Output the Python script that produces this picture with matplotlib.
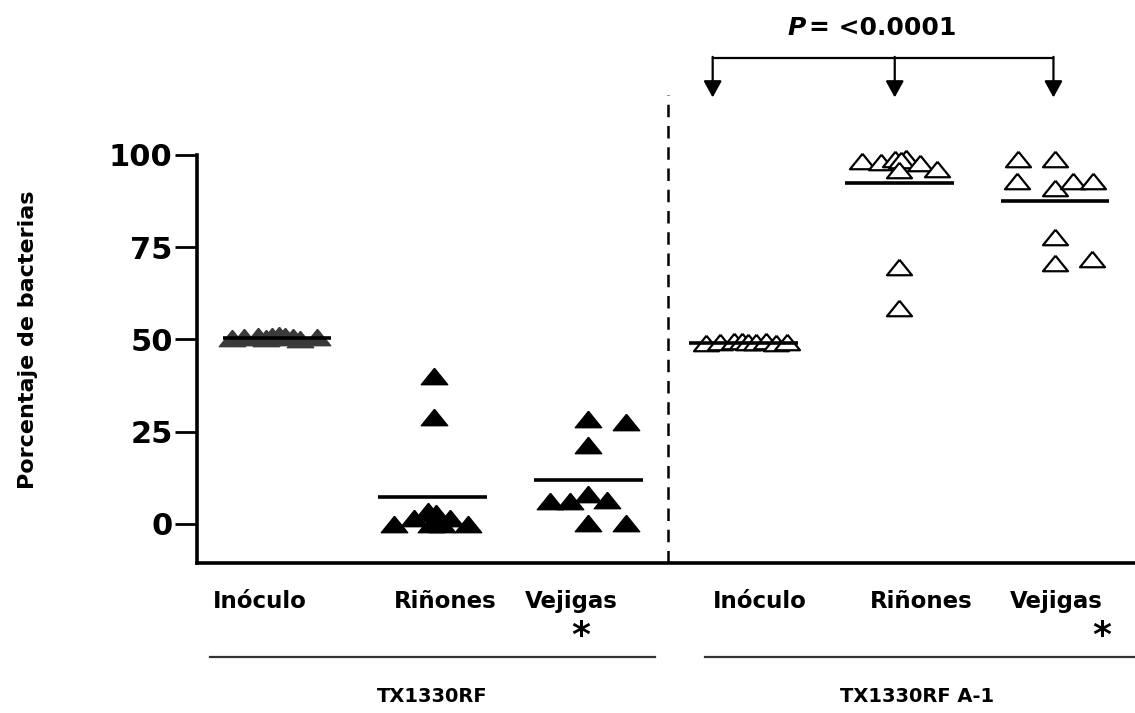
import matplotlib
matplotlib.use("Agg")
import matplotlib.pyplot as plt
import numpy as np

# ---------------- data ----------------
categories = ["Inóculo", "Riñones", "Vejigas", "Inóculo", "Riñones", "Vejigas"]
groups = ["TX1330RF", "TX1330RF A-1"]
yticks = [0, 25, 50, 75, 100]
ylabel = "Porcentaje de bacterias"
pvalue_text = "= <0.0001"

inoc1 = [50.3, 50.6, 50.8, 50.4, 51.0, 51.2, 50.9, 50.6, 50.2, 50.7]
inoc1_dx = [-0.29, -0.21, -0.12, -0.07, -0.03, 0.01, 0.05, 0.10, 0.15, 0.26]
rin1 = [40.0, 29.0, 0.0, 1.5, 3.5, 3.0, 1.5, 0.0, 0.0, 0.0]
rin1_dx = [0.01, 0.01, -0.25, -0.12, -0.03, 0.02, 0.11, 0.23, -0.01, 0.06]
vej1 = [28.3, 27.6, 21.5, 6.2, 6.2, 8.2, 6.5, 0.3, 0.3]
vej1_dx = [0.0, 0.24, 0.0, -0.245, -0.12, 0.0, 0.12, 0.0, 0.24]
inoc2 = [49.0, 49.3, 49.5, 49.6, 49.2, 49.4, 49.7, 49.1, 49.3]
inoc2_dx = [-0.24, -0.15, -0.06, -0.01, 0.03, 0.08, 0.14, 0.21, 0.28]
rin2 = [98.3, 98.0, 99.0, 99.2, 98.6, 97.8, 96.2, 96.0, 69.6, 58.5]
rin2_dx = [-0.24, -0.12, -0.03, 0.04, 0.01, 0.13, 0.24, 0.0, 0.0, 0.0]
vej2 = [98.8, 98.8, 92.9, 91.0, 92.9, 92.9, 77.9, 70.6, 71.9]
vej2_dx = [-0.24, 0.0, -0.245, 0.0, 0.115, 0.245, 0.0, 0.0, 0.24]
means = [50.4, 7.3, 11.9, 49.0, 92.3, 87.5]

series = [(inoc1, inoc1_dx), (rin1, rin1_dx), (vej1, vej1_dx),
          (inoc2, inoc2_dx), (rin2, rin2_dx), (vej2, vej2_dx)]

# ---------------- figure ----------------
fig = plt.figure(figsize=(11.35, 7.13), dpi=100)
ax = fig.add_axes([197/1135, 1 - 563/713, 1 - 197/1135, (563 - 155)/713])

tri = [(0, 0.62), (-1, -0.62), (1, -0.62), (0, 0.62)]
positions = np.arange(1, 7)
for i, ((vals, dx), pos) in enumerate(zip(series, positions)):
    xs = pos + np.array(dx)
    if i == 0:
        ax.plot(xs, vals, linestyle="none", marker=tri, markersize=19,
                markerfacecolor="#3a3a3a", markeredgecolor="#3a3a3a",
                clip_on=False, zorder=3)
    elif i < 3:
        ax.plot(xs, vals, linestyle="none", marker=tri, markersize=19,
                markerfacecolor="black", markeredgecolor="black",
                clip_on=False, zorder=3)
    else:
        ax.plot(xs, vals, linestyle="none", marker=tri, markersize=18,
                markerfacecolor="white", markeredgecolor="black",
                markeredgewidth=1.6, clip_on=False, zorder=3)
    ax.plot([pos - 0.35, pos + 0.35], [means[i], means[i]], color="black",
            lw=2.6, solid_capstyle="butt", zorder=4, clip_on=False)

ax.set_xlim(0.486, 6.514)
ax.set_ylim(-10.6, 100)
ax.set_yticks(yticks)
ax.set_yticklabels([str(t) for t in yticks], fontsize=22, fontweight="heavy",
                   family="DejaVu Sans")
ax.set_xticks([])
for s in ["top", "right"]:
    ax.spines[s].set_visible(False)
ax.spines["left"].set_linewidth(2.6)
ax.spines["bottom"].set_linewidth(2.6)
ax.tick_params(axis="y", direction="out", length=16, width=2, pad=1.5)

fig.text(28/1135, 1 - 340/713, ylabel, rotation=90, fontsize=16,
         fontweight="bold", ha="center", va="center")

# dashed separator
ax.plot([3.513, 3.513], [-10.6, 116.3], color="black", lw=1.8,
        linestyle=(0, (5, 3.5)), clip_on=False, zorder=2)

# category labels
label_x = [0.89, 2.08, 2.89, 4.10, 5.14, 6.01]
for lx, lab in zip(label_x, categories):
    ax.text(lx, (524 - 602) / 3.69, lab, ha="center", va="center",
            fontsize=16.5, fontweight="bold", clip_on=False)

# group lines and labels
ax.plot([0.572, 3.43], [-36, -36], color="#333333", lw=1.6, clip_on=False)
ax.plot([3.75, 6.52], [-36, -36], color="#333333", lw=1.6, clip_on=False)
ax.text(2.89 + 0.06, (524 - 636) / 3.69, "*", ha="center", va="center",
        fontsize=26, fontweight="bold", clip_on=False)
ax.text(6.01 + 0.29, (524 - 636) / 3.69, "*", ha="center", va="center",
        fontsize=26, fontweight="bold", clip_on=False)
fig.text(432/1135, 1 - 697/713, groups[0], ha="center", va="center",
         fontsize=14, fontweight="bold")
fig.text(917/1135, 1 - 697/713, groups[1], ha="center", va="center",
         fontsize=14, fontweight="bold")

# significance bracket
top_y = 126.3
arrow_x = [3.80, 4.97, 5.99]
ax.plot([arrow_x[0], arrow_x[-1]], [top_y, top_y], color="black", lw=1.6,
        clip_on=False)
for axx in arrow_x:
    ax.annotate("", xy=(axx, 115.6), xytext=(axx, top_y + 0.3),
                arrowprops=dict(arrowstyle="-|>,head_length=1.0,head_width=0.55",
                                color="black", lw=1.6, shrinkA=0, shrinkB=0),
                annotation_clip=False)
fig.text(797/1135, 1 - 28/713, "P", ha="center", va="center",
         fontsize=18, fontweight="bold", fontstyle="italic")
fig.text(809/1135, 1 - 28/713, pvalue_text, ha="left", va="center",
         fontsize=18, fontweight="bold")

fig.savefig("out.png", dpi=100)
